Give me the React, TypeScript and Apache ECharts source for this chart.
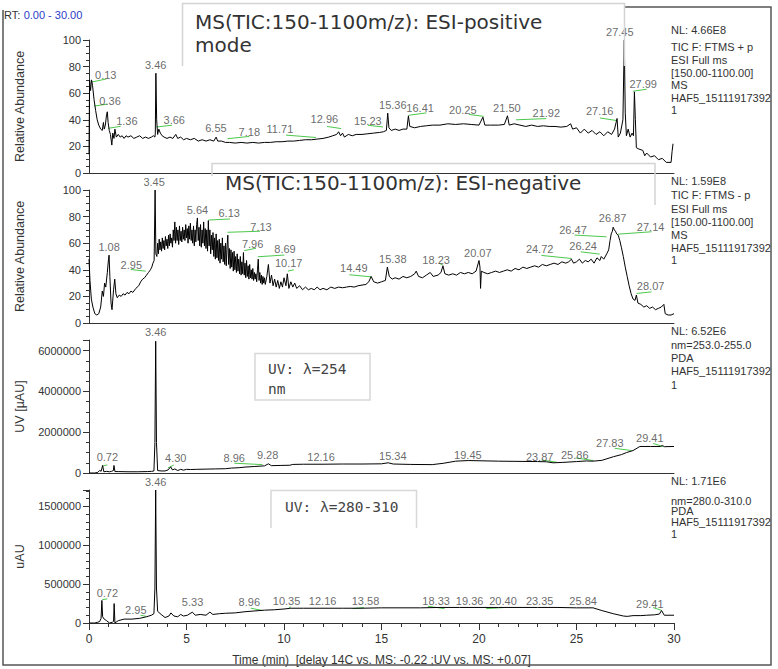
import React, { useEffect, useRef } from "react";
import * as echarts from "echarts";

// ---------- DATA ----------
const timeRange = [0, 30];

// Panel 1: MS TIC ESI-positive (relative abundance %)
const msPosTrace: [number, number][] = [
  [0.0, 14], [0.03, 70], [0.08, 62], [0.13, 70], [0.18, 66], [0.26, 55], [0.34, 47], [0.42, 40], [0.5, 36],
  [0.6, 33], [0.68, 32], [0.74, 38], [0.78, 33], [0.84, 36], [0.9, 44], [0.94, 46], [0.98, 38], [1.04, 32],
  [1.1, 29], [1.17, 21], [1.22, 30], [1.28, 26], [1.33, 33], [1.4, 27], [1.5, 29], [1.6, 27], [1.7, 28],
  [1.8, 26], [1.9, 28], [2.0, 27], [2.15, 28], [2.3, 26], [2.45, 27], [2.6, 28], [2.75, 26], [2.9, 27],
  [3.05, 26], [3.2, 27], [3.3, 28], [3.38, 27], [3.4, 30], [3.43, 75], [3.47, 40], [3.52, 29], [3.58, 33],
  [3.66, 30], [3.75, 28], [3.85, 27], [4.0, 26], [4.15, 27], [4.3, 26], [4.45, 29], [4.55, 26], [4.7, 27],
  [4.85, 25], [5.0, 26], [5.2, 25], [5.4, 26], [5.6, 24], [5.8, 25], [6.0, 24], [6.2, 25], [6.4, 24],
  [6.52, 27], [6.6, 24], [6.8, 24], [7.0, 23], [7.2, 23], [7.5, 22.5], [7.8, 23], [8.1, 22.5], [8.4, 23],
  [8.7, 22.5], [9.0, 23], [9.3, 23], [9.6, 23.5], [9.9, 23.5], [10.2, 24], [10.5, 24], [10.8, 24.5],
  [11.1, 25], [11.4, 25], [11.7, 25.5], [12.0, 26], [12.3, 27], [12.5, 28], [12.7, 29], [12.8, 31],
  [12.9, 28], [13.0, 30], [13.1, 27], [13.3, 29], [13.5, 28], [13.7, 29], [14.0, 29], [14.3, 29.5],
  [14.6, 30], [14.9, 30.5], [15.1, 31], [15.25, 32], [15.32, 45], [15.38, 34], [15.5, 32], [15.7, 33],
  [15.9, 32], [16.1, 33], [16.3, 33], [16.38, 43], [16.45, 35], [16.7, 34], [17.0, 35], [17.3, 35.5],
  [17.6, 36], [18.0, 36], [18.4, 37], [18.8, 36.5], [19.2, 37], [19.6, 36.5], [20.0, 36], [20.2, 42],
  [20.3, 36], [20.6, 36], [21.0, 36], [21.3, 36.5], [21.46, 43], [21.55, 36], [21.8, 37], [22.1, 36],
  [22.4, 35], [22.7, 36], [23.0, 35], [23.3, 35.5], [23.6, 35], [23.9, 35], [24.2, 34.5], [24.5, 35],
  [24.7, 37], [24.8, 33], [25.0, 34], [25.2, 30], [25.4, 33], [25.6, 30], [25.8, 32], [26.0, 29],
  [26.2, 31], [26.4, 28], [26.6, 31], [26.8, 29], [26.95, 33], [27.08, 41], [27.14, 27], [27.25, 30],
  [27.38, 40], [27.45, 100], [27.5, 45], [27.56, 28], [27.65, 33], [27.75, 27], [27.85, 30], [27.92, 28],
  [27.97, 61], [28.02, 40], [28.07, 19], [28.2, 18], [28.4, 17], [28.5, 13], [28.6, 15], [28.8, 12],
  [29.0, 13], [29.2, 10], [29.4, 11], [29.6, 8], [29.85, 8], [29.9, 16], [29.95, 22],
];
const msPosPeaks: [string, number, number][] = [
  ["0.13", 0.86, 74], ["0.36", 1.08, 54], ["1.36", 1.94, 39], ["3.46", 3.42, 81], ["3.66", 4.37, 40],
  ["6.55", 6.51, 34], ["7.18", 8.22, 30.5], ["11.71", 9.79, 33], ["12.96", 12.07, 40.7], ["15.23", 14.3, 39.4],
  ["15.36", 15.58, 51.5], ["16.41", 16.98, 49], ["20.25", 19.17, 47], ["21.50", 21.43, 49], ["21.92", 23.45, 45],
  ["27.16", 26.19, 46.5], ["27.45", 27.22, 106.3], ["27.99", 28.42, 67.2],
];
const msPosMarks: [number, number, number, number][] = [
  [0.14, 68.4, 0.89, 70.7], [0.25, 50.3, 0.94, 51.8], [0.99, 33.6, 1.62, 35.1], [3.46, 34.6, 4.25, 35.9],
  [7.1, 25.8, 8.22, 27.5], [10.1, 28.5, 11.64, 26.7], [12.2, 35, 12.93, 33.4], [14.3, 35.9, 15.07, 34.6],
  [16.4, 43.4, 17.3, 45.2], [19.48, 44, 20.24, 42.6], [21.9, 40, 23.45, 40.9], [26.2, 41.4, 27.08, 39.4],
  [27.9, 61.5, 28.6, 63],
];
const msPosInfo = ["NL: 4.66E8", "TIC F: FTMS + p", "ESI Full ms", "[150.00-1100.00]", "MS", "HAF5_15111917392", "1"];

// Panel 2: MS TIC ESI-negative (relative abundance %)
const msNegTrace: [number, number][] = [
  [0.0, 48], [0.05, 32], [0.12, 18], [0.2, 12], [0.3, 7], [0.4, 6], [0.5, 7], [0.6, 12], [0.68, 24],
  [0.74, 20], [0.8, 30], [0.86, 27], [0.94, 38], [1.0, 48], [1.03, 51], [1.07, 35], [1.13, 15], [1.18, 10],
  [1.26, 25], [1.32, 33], [1.38, 22], [1.45, 19], [1.55, 21], [1.65, 20], [1.75, 22], [1.85, 21], [1.95, 23],
  [2.05, 22], [2.15, 24], [2.25, 23], [2.4, 26], [2.55, 28], [2.65, 31], [2.75, 33], [2.85, 34], [2.95, 36],
  [3.05, 38], [3.15, 40], [3.22, 42], [3.28, 45], [3.34, 47], [3.39, 100], [3.43, 52],
  [3.48, 50], [3.52, 60], [3.56, 52], [3.6, 63], [3.64, 55], [3.68, 61], [3.72, 54], [3.76, 64], [3.8, 56],
  [3.84, 62], [3.88, 55], [3.92, 65], [3.96, 58], [4.0, 63], [4.04, 56], [4.08, 66], [4.12, 58], [4.16, 67],
  [4.2, 60], [4.24, 64], [4.28, 57], [4.32, 70], [4.36, 62], [4.4, 76], [4.44, 60], [4.48, 72], [4.52, 62],
  [4.56, 70], [4.6, 59], [4.64, 73], [4.68, 62], [4.72, 69], [4.76, 61], [4.8, 72], [4.84, 63], [4.88, 70],
  [4.92, 62], [4.96, 74], [5.0, 64], [5.04, 71], [5.08, 60], [5.12, 73], [5.16, 63], [5.2, 75], [5.24, 62],
  [5.28, 70], [5.32, 60], [5.36, 73], [5.4, 58], [5.44, 70], [5.48, 61], [5.52, 74], [5.56, 79], [5.6, 62],
  [5.64, 72], [5.68, 58], [5.72, 74], [5.76, 57], [5.8, 70], [5.84, 60], [5.88, 76], [5.92, 58], [5.96, 71],
  [6.0, 56], [6.04, 70], [6.08, 54], [6.12, 77], [6.16, 58], [6.2, 70], [6.24, 52], [6.28, 66], [6.32, 55],
  [6.36, 68], [6.4, 50], [6.44, 64], [6.48, 48], [6.52, 67], [6.56, 49], [6.6, 62], [6.64, 47], [6.68, 63],
  [6.72, 45], [6.76, 60], [6.8, 48], [6.84, 64], [6.88, 46], [6.92, 58], [6.96, 44], [7.0, 60], [7.04, 43],
  [7.08, 58], [7.12, 66], [7.16, 44], [7.2, 56], [7.24, 41], [7.28, 55], [7.32, 42], [7.36, 53], [7.4, 39],
  [7.44, 54], [7.48, 40], [7.52, 50], [7.56, 38], [7.6, 52], [7.64, 39], [7.68, 48], [7.72, 37], [7.76, 50],
  [7.8, 36], [7.84, 46], [7.88, 37], [7.92, 53], [7.96, 36], [8.0, 45], [8.04, 34], [8.08, 47], [8.12, 35],
  [8.16, 43], [8.2, 33], [8.24, 44], [8.28, 34], [8.32, 40], [8.36, 33], [8.4, 41], [8.44, 32], [8.48, 38],
  [8.52, 33], [8.56, 37], [8.6, 31], [8.64, 40], [8.68, 48], [8.72, 32], [8.76, 38], [8.8, 30], [8.84, 36],
  [8.88, 29], [8.92, 35], [8.96, 30], [9.0, 34],
  [9.04, 29], [9.12, 35], [9.2, 44],
  [9.28, 30], [9.36, 36], [9.44, 28], [9.52, 33], [9.6, 27], [9.68, 32], [9.76, 26], [9.84, 31], [9.92, 27],
  [10.0, 34], [10.1, 28], [10.17, 37], [10.25, 26], [10.35, 31], [10.45, 27], [10.55, 30], [10.65, 26],
  [10.8, 28], [10.95, 25], [11.1, 27], [11.25, 25], [11.4, 26], [11.55, 25], [11.7, 27], [11.85, 25],
  [12.0, 26], [12.2, 25], [12.4, 27], [12.6, 26], [12.8, 27], [13.0, 26.5], [13.2, 27], [13.4, 27.5],
  [13.6, 27], [13.8, 28], [14.0, 28.5], [14.2, 29], [14.35, 31], [14.47, 35], [14.6, 31], [14.8, 30],
  [15.0, 31], [15.2, 32], [15.3, 42], [15.4, 35], [15.55, 33], [15.7, 34], [15.9, 33], [16.1, 35],
  [16.3, 34], [16.5, 35], [16.7, 37], [16.78, 39], [16.9, 35], [17.1, 34], [17.3, 36], [17.5, 38],
  [17.65, 35], [17.9, 36], [18.05, 38], [18.15, 43], [18.25, 37], [18.45, 36], [18.65, 37], [18.85, 36],
  [19.05, 38], [19.25, 37], [19.45, 38], [19.65, 37], [19.85, 39], [20.0, 47], [20.05, 42], [20.08, 26],
  [20.12, 39], [20.25, 38], [20.45, 37], [20.65, 38], [20.85, 39], [21.05, 38], [21.25, 39], [21.45, 40],
  [21.65, 39], [21.85, 41], [22.05, 40], [22.25, 42], [22.45, 41], [22.65, 42], [22.85, 43], [23.05, 42],
  [23.25, 44], [23.45, 43], [23.65, 44], [23.85, 45], [24.05, 44], [24.25, 46], [24.45, 45], [24.6, 46],
  [24.74, 48], [24.85, 45], [25.0, 46], [25.15, 48], [25.3, 45], [25.45, 47], [25.6, 46], [25.75, 48],
  [25.9, 45], [26.05, 49], [26.2, 47], [26.27, 50], [26.4, 48], [26.55, 52], [26.65, 55], [26.72, 62],
  [26.78, 67], [26.84, 69], [26.88, 72], [26.94, 70], [27.0, 69], [27.06, 67], [27.14, 66], [27.22, 62],
  [27.3, 57], [27.4, 50], [27.5, 42], [27.6, 35], [27.7, 28], [27.8, 22], [27.9, 18], [28.0, 17],
  [28.07, 21], [28.15, 15], [28.3, 14], [28.45, 12], [28.6, 13], [28.75, 11], [28.9, 12], [29.05, 10],
  [29.2, 11], [29.35, 12], [29.48, 14], [29.55, 7], [29.7, 6], [29.85, 6], [30.0, 7],
];
const msNegPeaks: [string, number, number][] = [
  ["1.08", 1.03, 56.8], ["2.95", 2.17, 43.5], ["3.45", 3.34, 106.3], ["5.64", 5.56, 84.9], ["6.13", 7.19, 82.4],
  ["7.13", 8.82, 72.3], ["7.96", 8.39, 59.3], ["8.69", 10.05, 55.3], ["10.17", 10.24, 44.8], ["14.49", 13.58, 41],
  ["15.38", 15.58, 47.8], ["18.23", 17.8, 47.2], ["20.07", 19.94, 52.8], ["24.72", 23.11, 55.3],
  ["26.24", 25.34, 57.8], ["26.47", 24.82, 69.9], ["26.87", 26.85, 78.7], ["27.14", 28.8, 72.4], ["28.07", 28.8, 27.7],
];
const msNegMarks: [number, number, number, number][] = [
  [2.14, 40.2, 2.91, 39], [6.13, 77.4, 7.23, 78.2], [7.1, 68.2, 8.77, 69], [7.96, 54.4, 8.56, 56.2],
  [8.66, 49.8, 10.02, 51.1], [10.2, 39, 10.5, 40], [13.35, 36.3, 14.47, 34.7], [17.95, 45, 18.15, 43.5],
  [23.2, 50.8, 24.74, 48.5], [25.22, 53.5, 26.19, 51.8], [24.9, 66.1, 26.54, 64.8], [27.13, 66.8, 28.85, 68.6],
  [28.08, 22.2, 28.85, 23.4],
];
const msNegInfo = ["NL: 1.59E8", "TIC F: FTMS - p", "ESI Full ms", "[150.00-1100.00]", "MS", "HAF5_15111917392", "1"];

// Panel 3: UV 254 nm (µAU)
const uv254Trace: [number, number][] = [
  [0.0, 0], [0.3, 0], [0.45, 30000], [0.55, 130000], [0.62, 80000], [0.7, 370000], [0.76, 60000],
  [0.9, 80000], [1.05, 60000], [1.15, 80000], [1.25, 120000], [1.28, 370000], [1.33, 70000], [1.5, 70000],
  [2.0, 60000], [2.5, 60000], [3.0, 70000], [3.2, 80000], [3.33, 100000], [3.38, 1500000], [3.42, 6460000],
  [3.46, 1500000], [3.52, 120000], [3.7, 100000], [3.9, 100000], [4.05, 150000], [4.19, 300000],
  [4.28, 150000], [4.4, 200000], [4.55, 120000], [4.7, 180000], [4.85, 140000], [5.0, 180000],
  [5.2, 170000], [5.5, 180000], [6.0, 190000], [6.5, 200000], [7.0, 210000], [7.3, 240000], [7.7, 260000],
  [8.0, 290000], [8.5, 320000], [9.0, 350000], [9.2, 450000], [9.35, 360000], [9.8, 370000],
  [10.3, 380000], [10.45, 420000], [11.0, 430000], [12.0, 430000], [13.0, 440000], [14.0, 440000],
  [15.0, 450000], [15.34, 500000], [15.6, 440000], [16.5, 420000], [17.6, 410000], [18.2, 480000],
  [18.8, 580000], [19.45, 610000], [20.0, 600000], [21.0, 580000], [22.0, 570000], [23.0, 560000],
  [23.45, 550000], [23.8, 500000], [24.3, 520000], [25.0, 560000], [25.5, 590000], [25.85, 580000],
  [26.3, 620000], [26.9, 800000], [27.3, 900000], [27.56, 1000000], [27.9, 1100000], [28.25, 1300000],
  [28.8, 1300000], [29.3, 1300000], [29.41, 1350000], [29.5, 1290000], [30.0, 1300000],
];
const uv254Peaks: [string, number, number][] = [
  ["3.46", 3.42, 6920000], ["0.72", 0.94, 770000], ["4.30", 4.45, 720000], ["8.96", 7.45, 740000],
  ["9.28", 9.16, 890000], ["12.16", 11.9, 800000], ["15.34", 15.58, 850000], ["19.45", 19.43, 900000],
  ["23.87", 23.11, 800000], ["25.86", 24.91, 900000], ["27.83", 26.71, 1450000], ["29.41", 28.76, 1720000],
];
const uv254Marks: [number, number, number, number][] = [
  [0.68, 330000, 0.94, 400000], [4.05, 250000, 4.35, 390000], [7.45, 480000, 8.9, 410000],
  [23.2, 640000, 23.97, 530000], [24.96, 740000, 25.87, 610000], [26.96, 1210000, 27.82, 1100000],
  [28.93, 1450000, 29.45, 1290000],
];
const uv254Info = ["NL: 6.52E6", "nm=253.0-255.0", "PDA", "HAF5_15111917392", "1"];

// Panel 4: UV 280-310 nm (uAU)
const uv280Trace: [number, number][] = [
  [0.0, 0], [0.3, 0], [0.45, 10000], [0.55, 20000], [0.62, 60000], [0.66, 290000], [0.7, 80000],
  [0.78, 50000], [0.9, 30000], [1.05, 0], [1.2, 10000], [1.26, 20000], [1.29, 250000], [1.33, 0],
  [1.5, 30000], [1.8, 50000], [2.2, 50000], [2.6, 60000], [2.95, 80000], [3.2, 100000], [3.33, 120000],
  [3.38, 450000], [3.42, 1710000], [3.46, 450000], [3.52, 150000], [3.7, 110000], [3.9, 70000],
  [4.1, 90000], [4.2, 130000], [4.35, 90000], [4.55, 80000], [4.7, 110000], [4.85, 90000], [5.05, 100000],
  [5.3, 140000], [5.45, 100000], [5.7, 110000], [6.0, 100000], [6.2, 140000], [6.35, 110000],
  [6.7, 120000], [7.0, 125000], [7.5, 130000], [8.0, 145000], [8.5, 155000], [9.0, 165000], [9.5, 170000],
  [10.0, 180000], [10.35, 190000], [11.0, 190000], [12.0, 190000], [13.0, 190000], [14.0, 190000],
  [15.0, 195000], [16.0, 195000], [17.0, 195000], [18.0, 200000], [19.0, 200000], [20.0, 200000],
  [21.0, 200000], [22.0, 200000], [23.0, 200000], [24.0, 200000], [25.0, 195000], [25.85, 195000],
  [26.3, 160000], [26.88, 120000], [27.4, 90000], [27.6, 85000], [27.9, 95000], [28.3, 95000],
  [28.6, 100000], [29.0, 105000], [29.25, 115000], [29.36, 160000], [29.5, 100000], [30.0, 100000],
];
const uv280Peaks: [string, number, number][] = [
  ["3.46", 3.42, 1810000], ["0.72", 0.94, 386000], ["2.95", 2.4, 163000], ["5.33", 5.31, 270000],
  ["8.96", 8.22, 270000], ["10.35", 10.13, 283000], ["12.16", 11.98, 283000], ["13.58", 14.18, 283000],
  ["18.33", 17.8, 283000], ["19.36", 19.52, 283000], ["20.40", 21.23, 283000], ["23.35", 23.11, 283000],
  ["25.84", 25.34, 283000], ["29.41", 28.76, 240000],
];
const uv280Marks: [number, number, number, number][] = [
  [0.68, 300000, 0.94, 310000], [2.64, 100000, 2.95, 85000], [8.3, 190000, 8.9, 160000],
  [10.25, 200000, 10.35, 205000], [13.52, 185000, 14.1, 198000], [17.38, 215000, 18.23, 185000],
  [20.37, 185000, 21.23, 198000], [28.93, 198000, 29.36, 163000],
];
const uv280Info = ["NL: 1.71E6", "nm=280.0-310.0", "PDA", "HAF5_15111917392", "1"];

const yNames = ["Relative Abundance", "Relative Abundance", "UV [µAU]", "uAU"];
const yMax = [100, 100, 6520000, 1710000];
const yInterval = [20, 20, 2000000, 500000];
const yMinorSplit = [4, 4, 4, 5];
const xAxisName = "Time (min)  [delay 14C vs. MS: -0.22 ;UV vs. MS: +0.07]";
const titlePos = ["MS(TIC:150-1100m/z): ESI-positive", "mode"];
const titleNeg = "MS(TIC:150-1100m/z): ESI-negative";
const uvTitle1 = ["UV: λ=254", "nm"];
const uvTitle2 = "UV: λ=280-310";

// ---------- LAYOUT ----------
const GRID_LEFT = 89;
const GRID_WIDTH = 585;
const gridTops = [40, 190, 340, 490];
const GRID_H = 133;
const FONT = "'Liberation Sans', Arial, sans-serif";

export default function App() {
  const ref = useRef<HTMLDivElement>(null);
  useEffect(() => {
    document.body.style.margin = "0";
    const chart = echarts.init(ref.current!, null, { renderer: "svg" });
    const traces = [msPosTrace, msNegTrace, uv254Trace, uv280Trace];
    const peaks = [msPosPeaks, msNegPeaks, uv254Peaks, uv280Peaks];
    const marks = [msPosMarks, msNegMarks, uv254Marks, uv280Marks];
    const infos = [msPosInfo, msNegInfo, uv254Info, uv280Info];
    const infoY = [
      [30, 46.5, 59.5, 72.5, 85, 97.5, 110],
      [180.5, 195, 208.5, 221.5, 235, 247.5, 260],
      [331, 345, 358, 371, 385],
      [481, 500.5, 511, 522, 533.5],
    ];

    const grid = gridTops.map((t) => ({ left: GRID_LEFT, width: GRID_WIDTH, top: t, height: GRID_H }));
    const xAxis = gridTops.map((_, i) => {
      const bottom = i === 3;
      return {
        type: "value",
        gridIndex: i,
        min: timeRange[0],
        max: timeRange[1],
        interval: 5,
        axisLine: { show: true, lineStyle: { color: "#333", width: 1 } },
        axisTick: { show: bottom, length: 7, lineStyle: { color: "#333" } },
        minorTick: { show: bottom, splitNumber: 5, length: 4, lineStyle: { color: "#333" } },
        axisLabel: { show: bottom, fontSize: 12, color: "#333", fontFamily: FONT, margin: 10 },
        splitLine: { show: false },
        name: bottom ? xAxisName : "",
        nameLocation: "middle",
        nameGap: 31,
        nameTextStyle: { fontSize: 12, color: "#333", fontFamily: FONT },
      };
    });
    const yAxis = gridTops.map((_, i) => ({
      type: "value",
      gridIndex: i,
      min: 0,
      max: yMax[i],
      interval: yInterval[i],
      axisLine: { show: true, lineStyle: { color: "#333", width: 1 } },
      axisTick: { show: true, length: 6, lineStyle: { color: "#333" } },
      minorTick: { show: true, splitNumber: yMinorSplit[i], length: 3, lineStyle: { color: "#333" } },
      axisLabel: {
        fontSize: 11,
        color: "#333",
        fontFamily: FONT,
        margin: 8,
        formatter: (v: number) => (v % yInterval[i] === 0 ? String(v) : ""),
      },
      splitLine: { show: false },
      name: yNames[i],
      nameLocation: "middle",
      nameGap: 63,
      nameRotate: 90,
      nameTextStyle: { fontSize: 12.5, color: "#333", fontFamily: FONT },
    }));

    const series: any[] = [];
    traces.forEach((tr, i) => {
      series.push({
        type: "line",
        xAxisIndex: i,
        yAxisIndex: i,
        data: tr,
        showSymbol: false,
        symbol: "none",
        lineStyle: { color: "#000", width: 1 },
        silent: true,
        z: 3,
      });
      series.push({
        type: "lines",
        coordinateSystem: "cartesian2d",
        xAxisIndex: i,
        yAxisIndex: i,
        data: marks[i].map(([x1, y1, x2, y2]) => ({ coords: [[x1, y1], [x2, y2]] })),
        lineStyle: { color: "#4cc84c", width: 1, opacity: 1 },
        silent: true,
        z: 2,
      });
      series.push({
        type: "scatter",
        xAxisIndex: i,
        yAxisIndex: i,
        clip: false,
        symbolSize: 0,
        data: peaks[i].map(([txt, x, y]) => ({ name: txt, value: [x, y] })),
        label: {
          show: true,
          position: "inside",
          formatter: (p: any) => p.name,
          fontSize: 11,
          color: "#444",
          fontFamily: FONT,
        },
        silent: true,
        z: 4,
      });
    });

    const graphic: any[] = [];
    graphic.push({
      type: "polyline",
      shape: { points: [[625, 7], [771, 7], [771, 665], [3, 665], [3, 10]] },
      style: { stroke: "#555", lineWidth: 1.5, fill: null },
      z: 10,
    });
    graphic.push({
      type: "text",
      left: 4,
      top: 9,
      style: {
        text: "{a|RT:} {b|0.00 - 30.00}",
        rich: {
          a: { fontSize: 11, fill: "#333", fontFamily: FONT },
          b: { fontSize: 11, fill: "#2a3cc8", fontFamily: FONT },
        },
      },
      z: 10,
    });
    graphic.push({
      type: "polyline",
      shape: { points: [[182.5, 66], [182.5, 3.5], [624.5, 3.5], [624.5, 66]] },
      style: { stroke: "#d4d4d4", lineWidth: 1.5, fill: null },
      z: 10,
    });
    graphic.push({
      type: "polyline",
      shape: { points: [[212, 176], [212, 163.5], [655, 163.5], [655, 205]] },
      style: { stroke: "#d4d4d4", lineWidth: 1.5, fill: null },
      z: 10,
    });
    graphic.push({
      type: "rect",
      shape: { x: 255, y: 353.5, width: 115, height: 46.5 },
      style: { stroke: "#d8d8d8", lineWidth: 1.5, fill: "#fff" },
      z: 10,
    });
    graphic.push({
      type: "polyline",
      shape: { points: [[271, 528], [271, 490.5], [416.5, 490.5], [416.5, 528]] },
      style: { stroke: "#d8d8d8", lineWidth: 1.5, fill: null },
      z: 10,
    });
    const titleFont = "'DejaVu Sans', 'Noto Sans', sans-serif";
    graphic.push({
      type: "text", x: 195, y: 22,
      style: { text: titlePos[0], font: `20px ${titleFont}`, fill: "#333", verticalAlign: "middle" }, z: 11,
    });
    graphic.push({
      type: "text", x: 195, y: 45,
      style: { text: titlePos[1], font: `20px ${titleFont}`, fill: "#333", verticalAlign: "middle" }, z: 11,
    });
    graphic.push({
      type: "text", x: 225, y: 183,
      style: { text: titleNeg, font: `20px ${titleFont}`, fill: "#333", verticalAlign: "middle" }, z: 11,
    });
    const monoFont = "'DejaVu Sans Mono', 'Liberation Mono', monospace";
    graphic.push({
      type: "text", x: 268, y: 369,
      style: { text: uvTitle1[0], font: `14.5px ${monoFont}`, fill: "#444", verticalAlign: "middle" }, z: 11,
    });
    graphic.push({
      type: "text", x: 268, y: 389,
      style: { text: uvTitle1[1], font: `14.5px ${monoFont}`, fill: "#444", verticalAlign: "middle" }, z: 11,
    });
    graphic.push({
      type: "text", x: 285, y: 507,
      style: { text: uvTitle2, font: `14.5px ${monoFont}`, fill: "#444", verticalAlign: "middle" }, z: 11,
    });
    infos.forEach((lines, i) => {
      lines.forEach((t, j) => {
        graphic.push({
          type: "text",
          x: 671,
          y: infoY[i][j],
          style: { text: t, font: `11px ${FONT}`, fill: "#333", verticalAlign: "middle" },
          z: 11,
        });
      });
    });

    chart.setOption({
      animation: false,
      backgroundColor: "#fff",
      grid,
      xAxis,
      yAxis,
      series,
      graphic,
    });
    return () => chart.dispose();
  }, []);
  return <div ref={ref} style={{ width: 778, height: 669 }} />;
}
